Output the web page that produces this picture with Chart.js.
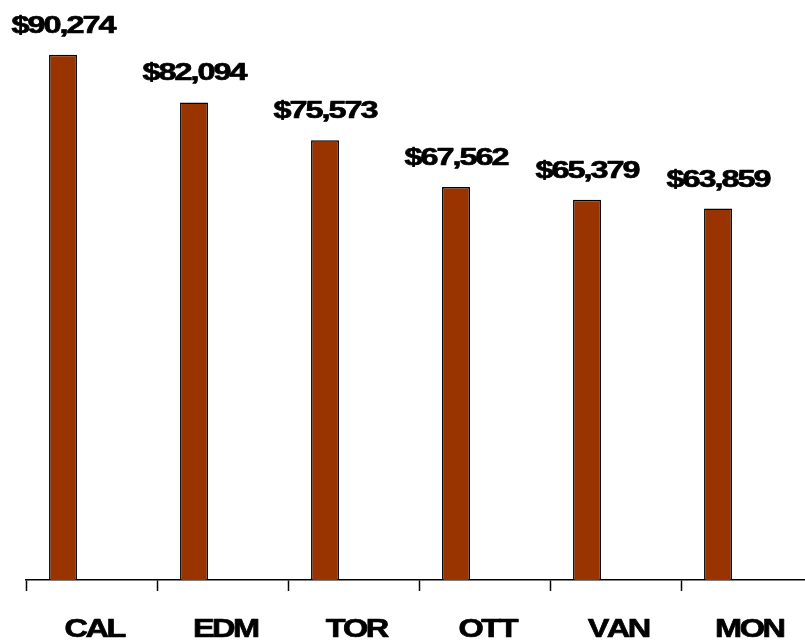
<!DOCTYPE html>
<html>
<head>
<meta charset="utf-8">
<script src="https://cdn.jsdelivr.net/npm/chart.js@4"></script>
<style>
  html, body { margin: 0; padding: 0; background: #ffffff; overflow: hidden; }
  #wrap { position: relative; width: 840px; height: 641px; }
</style>
</head>
<body>
<div id="wrap"><canvas id="c"></canvas></div>
<script>
const categories = ['CAL', 'EDM', 'TOR', 'OTT', 'VAN', 'MON'];
const salaries = [90274, 82094, 75573, 67562, 65379, 63859];
const emptySeries = [null, null, null, null, null, null];

function drawTight(ctx, text, cx, baseline, sx, tighten) {
  const chars = Array.from(text);
  const widths = chars.map(ch => ctx.measureText(ch).width);
  const total = widths.reduce((a, b) => a + b, 0) - tighten * (chars.length - 1);
  ctx.save();
  ctx.translate(cx, baseline);
  ctx.scale(sx, 1);
  ctx.textAlign = 'left';
  let x = -total / 2;
  chars.forEach((ch, i) => {
    ctx.strokeText(ch, x, 0);
    ctx.fillText(ch, x, 0);
    x += widths[i] - tighten;
  });
  ctx.restore();
}

const labelPlugin = {
  id: 'tightLabels',
  afterDraw(chart) {
    const ctx = chart.ctx;
    const meta = chart.getDatasetMeta(0);
    const xScale = chart.scales.x;
    ctx.save();
    ctx.fillStyle = '#000000';
    ctx.strokeStyle = '#000000';
    ctx.lineWidth = 0.7;
    ctx.lineJoin = 'round';
    ctx.textBaseline = 'alphabetic';
    ctx.font = 'bold 24px "Liberation Sans", Arial, sans-serif';
    meta.data.forEach((bar, i) => {
      const txt = '$' + salaries[i].toLocaleString('en-US');
      drawTight(ctx, txt, bar.x + 1, bar.y - 22, 1.35, 1.5);
    });
    ctx.font = 'bold 26px "Liberation Sans", Arial, sans-serif';
    categories.forEach((cat, i) => {
      drawTight(ctx, cat, xScale.getPixelForTick(i) + 4, 637, 1.25, 2);
    });
    ctx.restore();
  }
};

new Chart(document.getElementById('c'), {
  type: 'bar',
  data: {
    labels: categories,
    datasets: [
      {
        data: salaries,
        backgroundColor: '#993300',
        borderColor: '#000000',
        borderWidth: 1.5,
        categoryPercentage: 0.87,
        barPercentage: 0.49
      },
      {
        data: emptySeries,
        backgroundColor: 'rgba(0,0,0,0)',
        borderWidth: 0,
        categoryPercentage: 0.87,
        barPercentage: 0.49
      }
    ]
  },
  options: {
    responsive: true,
    maintainAspectRatio: false,
    animation: false,
    devicePixelRatio: 1,
    layout: { padding: { left: 26, right: 28, top: 0, bottom: 50 } },
    plugins: {
      legend: { display: false },
      tooltip: { enabled: false },
      title: { display: false }
    },
    scales: {
      x: {
        offset: true,
        grid: {
          offset: true,
          drawOnChartArea: false,
          drawTicks: true,
          tickLength: 11,
          tickWidth: 1.5,
          tickColor: '#000000'
        },
        border: { display: true, color: '#000000', width: 1.5 },
        ticks: { display: false }
      },
      y: {
        display: false,
        min: 0,
        max: 99700
      }
    }
  },
  plugins: [labelPlugin]
});
</script>
</body>
</html>
